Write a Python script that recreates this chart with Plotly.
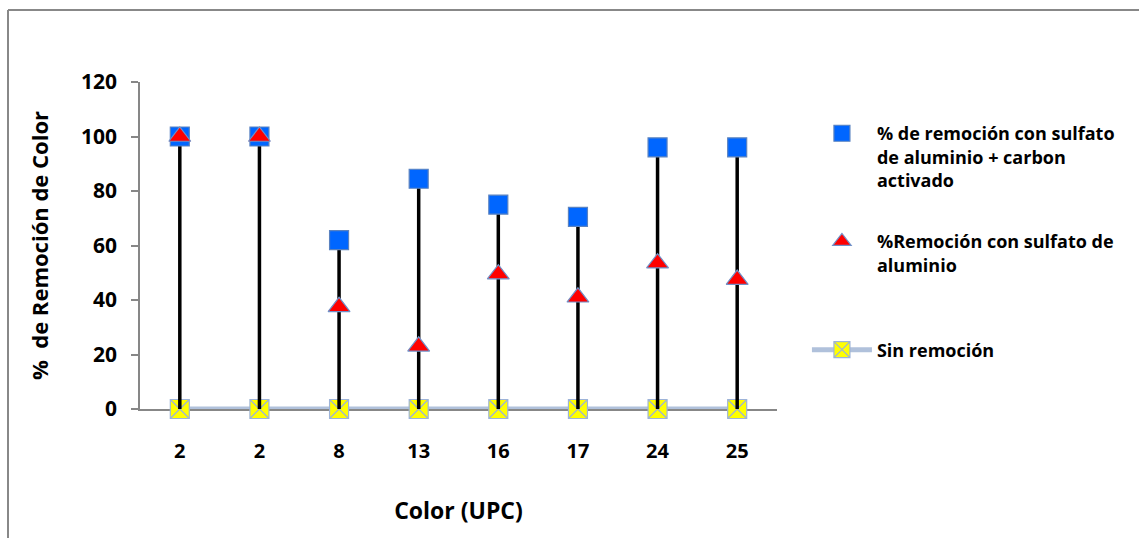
import plotly.graph_objects as go

categories = ["2", "2", "8", "13", "16", "17", "24", "25"]
carbon_removal = [100, 100, 62, 84.5, 75, 70.5, 96, 96]
sulfate_removal = [100, 100, 37.5, 23, 49.5, 41, 53.5, 47.5]
no_removal = [0, 0, 0, 0, 0, 0, 0, 0]
y_ticks = [0, 20, 40, 60, 80, 100, 120]

name_carbon = "% de remoción con sulfato<br>de aluminio + carbon<br>activado"
name_sulfate = "%Remoción con sulfato de<br>aluminio<br>\u00a0"
name_none = "Sin remoción"

FONT = "Open Sans"
xs = list(range(len(categories)))

stem_x, stem_y = [], []
for i, (lo, hi) in enumerate(zip(no_removal, carbon_removal)):
    stem_x += [i, i, None]
    stem_y += [lo, hi, None]

fig = go.Figure()

fig.add_trace(go.Scatter(
    x=xs, y=no_removal, mode="lines+markers", name=name_none,
    line=dict(color="#B0C1DB", width=5),
    marker=dict(symbol="square-x", size=19, color="#FFFF00",
                line=dict(color="#9DB3D8", width=1.2)),
    legendgroup="c", legendrank=3, cliponaxis=False,
))
fig.add_trace(go.Scatter(
    x=stem_x, y=stem_y, mode="lines", showlegend=False,
    line=dict(color="#000000", width=3.5), hoverinfo="skip",
))
fig.add_trace(go.Scatter(
    x=xs, y=carbon_removal, mode="markers", name=name_carbon,
    marker=dict(symbol="square", size=19, color="#0066FF",
                line=dict(color="#5A82C0", width=1.2)),
    legendgroup="a", legendrank=1,
))
fig.add_trace(go.Scatter(
    x=xs, y=sulfate_removal, mode="markers", name=name_sulfate,
    marker=dict(symbol="triangle-up", size=19, color="#FF0000",
                line=dict(color="#7090C8", width=1.2)),
    legendgroup="b", legendrank=2,
))

fig.update_layout(
    width=1139, height=538,
    margin=dict(l=140, r=362, t=82, b=129),
    paper_bgcolor="white", plot_bgcolor="white",
    font=dict(family=FONT, color="#000000"),
    showlegend=True,
    legend=dict(
        x=1.047, y=0.899, xanchor="left", yanchor="top",
        font=dict(family=FONT, size=18, weight="bold"),
        valign="top", tracegroupgap=35, traceorder="grouped",
        itemwidth=60,
        bgcolor="rgba(0,0,0,0)",
    ),
    xaxis=dict(
        range=[-0.5, len(categories) - 0.5],
        tickmode="array", tickvals=xs, ticktext=categories,
        showgrid=False, zeroline=False, layer="below traces",
        showline=True, linecolor="#878787", linewidth=1.5,
        ticks="", ticklabelstandoff=23,
        tickfont=dict(family=FONT, size=20, weight="bold"),
        title=dict(text="Color (UPC)", font=dict(family=FONT, size=23, weight="bold"),
                   standoff=40),
    ),
    yaxis=dict(
        range=[0, 120], tickmode="array", tickvals=y_ticks,
        showgrid=False, zeroline=False, layer="below traces",
        showline=True, linecolor="#878787", linewidth=1.5,
        ticks="outside", ticklen=7, tickcolor="#878787", tickwidth=1.5,
        ticklabelstandoff=10,
        tickfont=dict(family=FONT, size=21, weight="bold"),
        title=dict(text="%  de Remoción de Color", font=dict(family=FONT, size=22, weight="bold"),
                   standoff=26),
    ),
    shapes=[
        dict(type="line", xref="paper", yref="paper",
             x0=(8 - 140) / 637, x1=(8 - 140) / 637,
             y0=(409 - 10) / 327, y1=(409 - 545) / 327,
             line=dict(color="#888888", width=2)),
        dict(type="line", xref="paper", yref="paper",
             x0=(8 - 140) / 637, x1=(1145 - 140) / 637,
             y0=(409 - 10) / 327, y1=(409 - 10) / 327,
             line=dict(color="#888888", width=2)),
    ],
)

fig.write_html("out.html")
